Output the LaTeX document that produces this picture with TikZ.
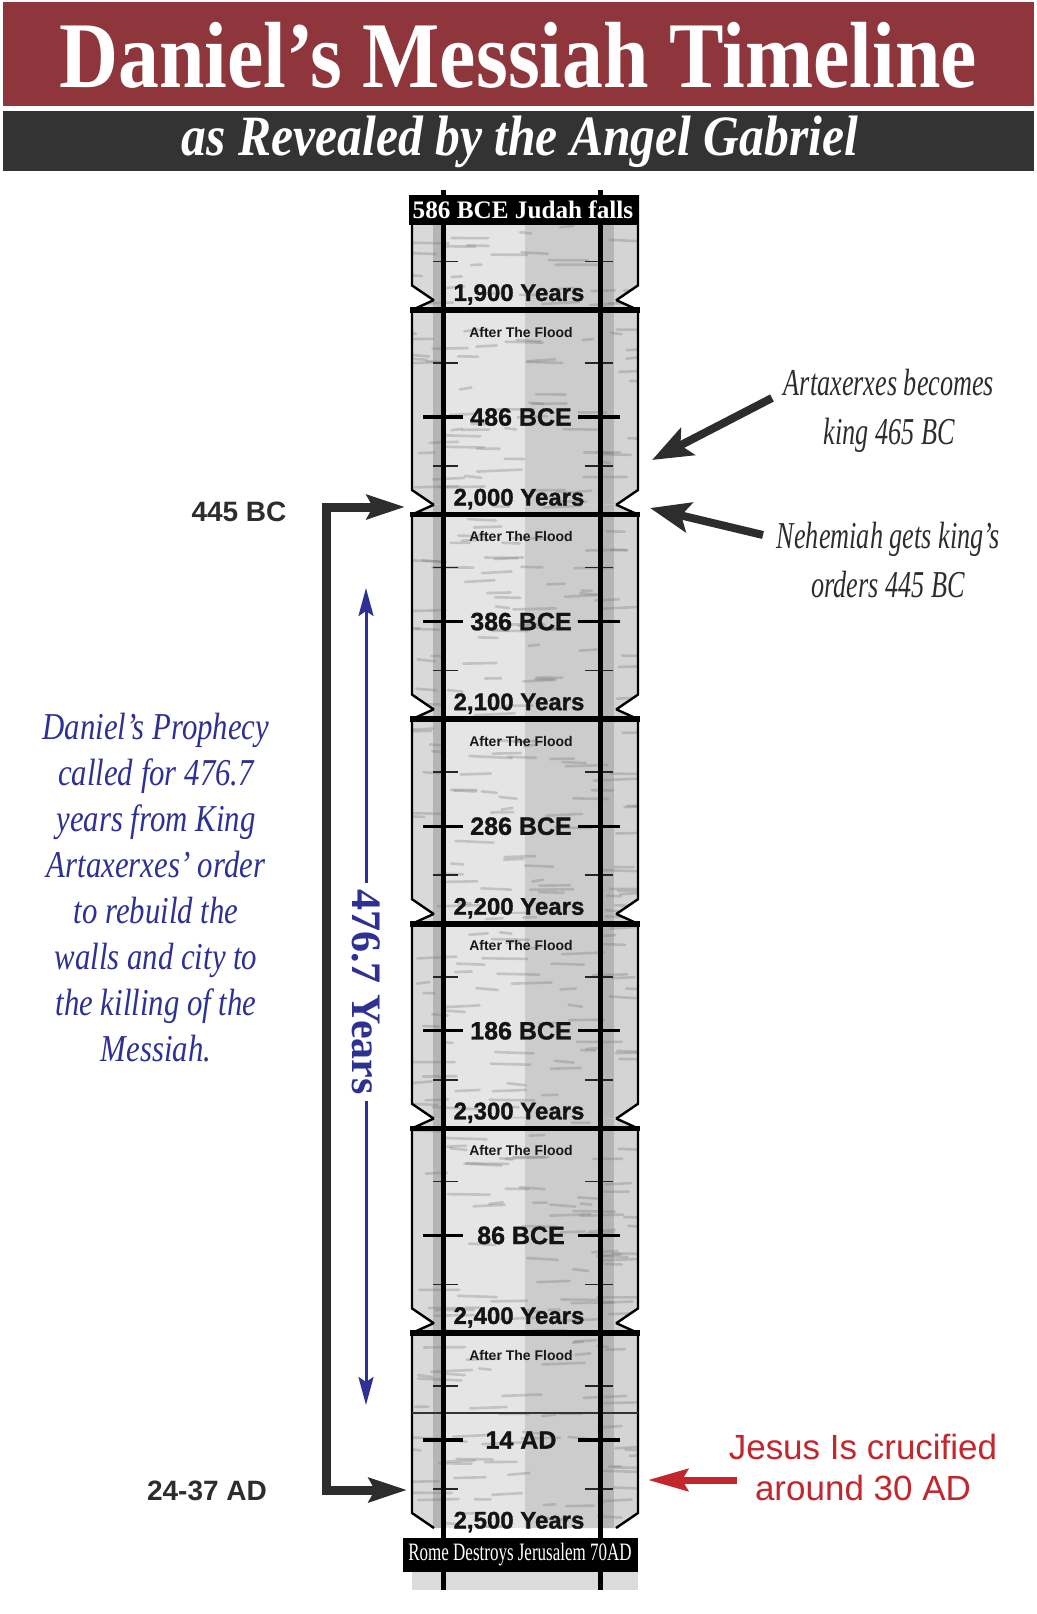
\documentclass[tikz,border=0pt]{standalone}
\usepackage{fontspec}
\setmainfont{Liberation Serif}
\newfontfamily\bannerfont[FakeStretch=0.87]{Liberation Serif}
\newfontfamily\notefont[FakeStretch=0.81]{Liberation Serif}
\newfontfamily\kingfont[FakeStretch=0.69]{Liberation Serif}
\newfontfamily\narrowfont[FakeStretch=0.68]{Liberation Serif}
\newfontfamily\armfont{Liberation Sans}
\newfontfamily\heavyfont[FakeBold=1.3]{Liberation Sans Bold}
\usetikzlibrary{arrows.meta,positioning}

\definecolor{bannerred}{RGB}{142,54,60}
\definecolor{bannerdark}{RGB}{51,51,51}
\definecolor{prophecyblue}{RGB}{46,49,146}
\definecolor{crossred}{RGB}{193,39,45}
\definecolor{inkgray}{RGB}{45,45,45}

% outline of one column block, #1 = y of its top bar
\newcommand\segleft[1]{(434,#1-10) -- (412,#1) -- (412,#1+180) -- (434,#1+195)}
\newcommand\segright[1]{(616,#1-10) -- (638,#1) -- (638,#1+180) -- (616,#1+195)}
\newcommand\segshape[1]{(434,#1-10) -- (412,#1) -- (412,#1+180) -- (434,#1+195)
    -- (616,#1+195) -- (638,#1+180) -- (638,#1) -- (616,#1-10) -- cycle}

\begin{document}
\begin{tikzpicture}[
        x=0.5pt, y=-0.5pt,
        every node/.style={inner sep=0pt, align=center},
        bannertitle/.style={text=white, font=\bannerfont\bfseries\fontsize{47}{47}\selectfont},
        bannersub/.style={text=white, font=\bannerfont\bfseries\itshape\fontsize{28.5}{28.5}\selectfont},
        capbox/.style={fill=black, text=white, minimum height=15pt},
        flood/.style={text=black!90, font=\armfont\bfseries\fontsize{7}{7}\selectfont},
        era/.style={text=black!92, font=\heavyfont\fontsize{12.5}{12.5}\selectfont},
        yrsmark/.style={text=black!92, font=\heavyfont\fontsize{12}{12}\selectfont},
        datemark/.style={text=inkgray, font=\armfont\bfseries\fontsize{14}{14}\selectfont},
        prophecy/.style={text=prophecyblue, font=\notefont\itshape\fontsize{19}{23}\selectfont},
        kingnote/.style={text=inkgray, font=\kingfont\itshape\fontsize{19}{24.5}\selectfont},
        crossnote/.style={text=crossred, font=\armfont\fontsize{17.5}{20.5}\selectfont},
        spanlabel/.style={text=prophecyblue, font=\bfseries\fontsize{21}{21}\selectfont, inner sep=3pt},
        colbar/.style={line width=2.8pt, black},
        coledge/.style={line width=1.2pt, black},
        tickmark/.style={line width=0.8pt, black!85},
        bigtick/.style={line width=1.6pt, black},
        streak/.style={line width=1.3pt, black!55, opacity=0.3, line cap=round},
        bracket/.style={line width=4.5pt, inkgray, line join=miter, {Stealth[length=19pt,width=12pt,inset=3pt]}-{Stealth[length=19pt,width=12pt,inset=3pt]}},
        pointer/.style={line width=4pt, inkgray, -{Stealth[length=20pt,width=15pt,inset=4pt]}},
        crossarrow/.style={line width=3.5pt, crossred, -{Stealth[length=20pt,width=11pt,inset=3pt]}},
        spanarrow/.style={line width=1.5pt, prophecyblue, -{Stealth[length=14pt,width=7.5pt,inset=2.5pt]}}
    ]
    \useasboundingbox (0,0) rectangle (1037,1614);

    % Banner
    \fill[bannerred] (3,2) rectangle (1034,106);
    \fill[bannerdark] (3,111) rectangle (1034,171);
    \node[bannertitle, anchor=base, text depth=0pt] (title) at (518,87) {Daniel’s Messiah Timeline};
    \node[bannersub, anchor=base] (subtitle) at (520,155) {as Revealed by the Angel Gabriel};

    % Column blocks
    \pgfmathsetseed{11}
    \fill[gray!28] (412,1568) rectangle (638,1590);
    \begin{scope}
    \clip (0,195) rectangle (1037,1614);
    \foreach \t in {105.4,310,514.6,719.2,923.8,1128.4,1333}{
        \begin{scope}
            \clip \segshape{\t};
            \fill[gray!20] (400,\t-12) rectangle (650,\t+197);
            \fill[gray!40] (525,\t-12) rectangle (598,\t+197);
            \fill[gray!30] (400,\t-12) rectangle (433,\t+197);
            \fill[gray!34] (613,\t-12) rectangle (650,\t+197);
            \fill[gray!58] (433,\t-12) rectangle (441,\t+197);
            \fill[gray!58] (603,\t-12) rectangle (614,\t+197);
            \foreach \i in {1,...,60}{
                \pgfmathsetmacro\sx{400+230*rnd}
                \pgfmathsetmacro\sy{\t-10+205*rnd}
                \pgfmathsetmacro\sl{10+35*rnd}
                \draw[streak] (\sx,\sy) -- ++(\sl,4*rnd-2);
            }
        \end{scope}
        \draw[coledge] \segleft{\t};
        \draw[coledge] \segright{\t};
        \draw[colbar] (410,\t) -- (640,\t);
    }

    % Marks and labels
    \foreach \t/\bce/\yrs [count=\k] in {105.4//{1,900 Years}, 310/486 BCE/{2,000 Years},
            514.6/386 BCE/{2,100 Years}, 719.2/286 BCE/{2,200 Years},
            923.8/186 BCE/{2,300 Years}, 1128.4/86 BCE/{2,400 Years}, 1333/14 AD/{2,500 Years}}{
        \draw[tickmark] (433,\t+53) -- (458,\t+53) (585,\t+53) -- (613,\t+53);
        \draw[tickmark] (433,\t+156) -- (458,\t+156) (585,\t+156) -- (613,\t+156);
        \draw[bigtick] (423,\t+107) -- (463,\t+107) (578,\t+107) -- (620,\t+107);
        \node[flood] (flood\k) at (521,\t+22) {After The Flood};
        \node[era] (era\k) at (521,\t+107) {\bce};
        \node[yrsmark] (yrs\k) at (519,\t+189) {\yrs};
    }
    \end{scope}
    \draw[gray!40!black, line width=0.8pt] (412,1413) -- (638,1413);
    \draw[colbar] (443.5,190) -- (443.5,1590);
    \draw[colbar] (600.5,190) -- (600.5,1590);

    \node[capbox, minimum width=114pt, font=\bfseries\fontsize{12.6}{12.6}\selectfont] (judah) at (523,210) {586 BCE Judah falls};
    \node[capbox, minimum width=117.5pt, minimum height=17pt, font=\narrowfont\fontsize{12.5}{12.5}\selectfont] (rome) at (520,1555) {Rome Destroys Jerusalem 70AD};

    % Left side
    \node[datemark] (bc445) at (239,512) {445 BC};
    \node[datemark] (ad2437) at (207,1491) {24-37 AD};
    \coordinate (in445) at (405,507);
    \coordinate (in2437) at (407,1490);
    \draw[bracket] (in445) -- ++(-79,0) |- (in2437);

    \node[spanlabel, rotate=-90] (span) at (366,992) {476.7 Years};
    \coordinate (spantop) at (366,588);
    \coordinate (spanbot) at (366,1405);
    \draw[spanarrow] (span.west) -- (spantop);
    \draw[spanarrow] (span.east) -- (spanbot);

    \node[prophecy] (prophecy) at (156,888) {Daniel’s Prophecy\\ called for 476.7\\ years from King\\
        Artaxerxes’ order\\ to rebuild the\\ walls and city to\\ the killing of the\\ Messiah.};

    % Right side
    \node[kingnote] (arta) at (889,411) {Artaxerxes becomes\\ king 465 BC};
    \node[kingnote] (nehem) at (888,560) {Nehemiah gets king’s\\ orders 445 BC};
    \node[crossnote] (jesus) at (863,1467) {Jesus Is crucified\\ around 30 AD};

    \coordinate (tail465) at (772,398);
    \coordinate (tip465) at (652,460);
    \coordinate (tail445) at (763,535);
    \coordinate (tip445) at (650,508);
    \coordinate (tailcross) at (737,1480);
    \coordinate (tipcross) at (648,1480);
    \draw[pointer] (tail465) -- (tip465);
    \draw[pointer] (tail445) -- (tip445);
    \draw[crossarrow] (tailcross) -- (tipcross);
\end{tikzpicture}
\end{document}
